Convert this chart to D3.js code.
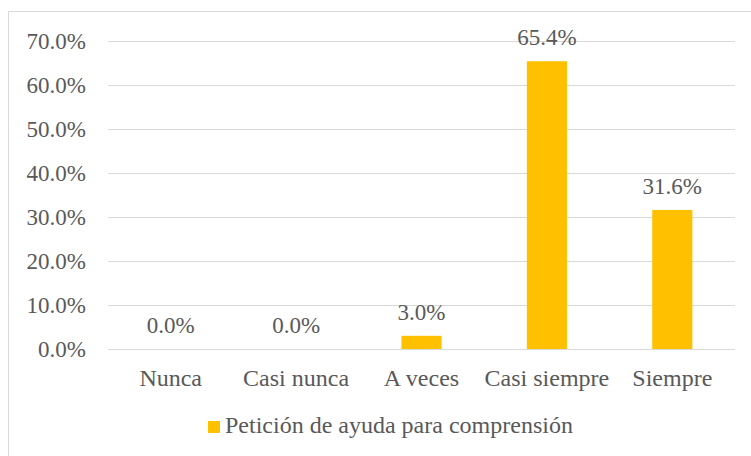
<!DOCTYPE html>
<html>
<head>
<meta charset="utf-8">
<script src="https://cdn.jsdelivr.net/npm/d3@7"></script>
<style>
 body{margin:0;background:#fff;}
</style>
</head>
<body>
<div id="chart"></div>
<script>
var categories=["Nunca","Casi nunca","A veces","Casi siempre","Siempre"];
var values=[0.0,0.0,3.0,65.4,31.6];
var yTicks=[0,10,20,30,40,50,60,70];
var seriesName="Petición de ayuda para comprensión";

var w=751,h=456;
var font="'Times New Roman', serif";
var tcol="#595959";

var svg=d3.select("#chart").append("svg")
	.attr("width",w).attr("height",h);

// chart frame (right and bottom edges run off the picture)
svg.append("rect")
	.attr("x",8.5).attr("y",11.5)
	.attr("width",760).attr("height",460)
	.attr("fill","#fff").attr("stroke","#d9d9d9").attr("stroke-width",1);

var x=d3.scaleBand().domain(categories).range([108,735]).paddingInner(0.68).paddingOuter(0.34);
var y=d3.scaleLinear().domain([0,70]).range([349,41]);

// gridlines
svg.selectAll("line.grid").data(yTicks).enter().append("line")
	.attr("class","grid")
	.attr("x1",108).attr("x2",735)
	.attr("y1",function(d){return Math.round(y(d))+0.5;})
	.attr("y2",function(d){return Math.round(y(d))+0.5;})
	.attr("stroke","#d9d9d9").attr("stroke-width",1);

// y labels
svg.selectAll("text.ylab").data(yTicks).enter().append("text")
	.attr("class","ylab")
	.attr("x",86).attr("y",function(d){return y(d);})
	.attr("dy","0.35em")
	.attr("text-anchor","end")
	.attr("font-family",font).attr("font-size","23px").attr("fill",tcol)
	.text(function(d){return d.toFixed(1)+"%";});

// bars
svg.selectAll("rect.bar").data(values).enter().append("rect")
	.attr("class","bar")
	.attr("x",function(d,i){return x(categories[i]);})
	.attr("width",x.bandwidth())
	.attr("y",function(d){return y(d);})
	.attr("height",function(d){return y(0)-y(d);})
	.attr("fill","#ffc000");

// value labels
svg.selectAll("text.val").data(values).enter().append("text")
	.attr("class","val")
	.attr("x",function(d,i){return x(categories[i])+x.bandwidth()/2;})
	.attr("y",function(d){return y(d)-16;})
	.attr("text-anchor","middle")
	.attr("font-family",font).attr("font-size","23px").attr("fill",tcol)
	.text(function(d){return d.toFixed(1)+"%";});

// category labels
svg.selectAll("text.cat").data(categories).enter().append("text")
	.attr("class","cat")
	.attr("x",function(d){return x(d)+x.bandwidth()/2;})
	.attr("y",386)
	.attr("text-anchor","middle")
	.attr("font-family",font).attr("font-size","24px").attr("fill",tcol)
	.text(function(d){return d;});

// legend
svg.append("rect")
	.attr("x",208).attr("y",421).attr("width",12).attr("height",12)
	.attr("fill","#ffc000");
svg.append("text")
	.attr("x",225).attr("y",433)
	.attr("font-family",font).attr("font-size","24px").attr("fill",tcol)
	.text(seriesName);
</script>
</body>
</html>
